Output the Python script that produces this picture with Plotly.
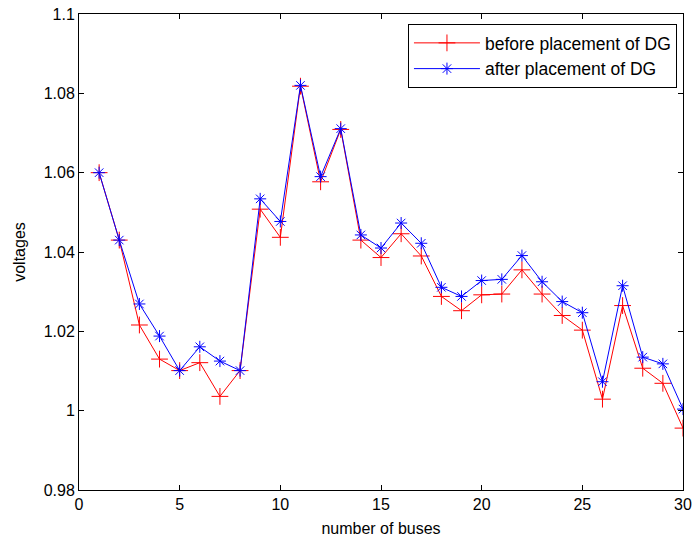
import plotly.graph_objects as go

buses = list(range(1, 31))
before_dg = [1.060, 1.043, 1.0216, 1.0130, 1.0101, 1.0121, 1.0036, 1.0101, 1.0508, 1.0437,
             1.0818, 1.0577, 1.0709, 1.0430, 1.0386, 1.0446, 1.0390, 1.0288, 1.0252, 1.0292,
             1.0294, 1.0355, 1.0294, 1.0240, 1.0203, 1.0029, 1.0265, 1.0107, 1.0069, 0.9956]
after_dg = [1.060, 1.043, 1.0269, 1.0188, 1.0101, 1.0161, 1.0125, 1.0101, 1.0534, 1.0477,
            1.0820, 1.0590, 1.0711, 1.0443, 1.0410, 1.0473, 1.0422, 1.0311, 1.0288, 1.0328,
            1.0331, 1.0391, 1.0325, 1.0275, 1.0247, 1.0073, 1.0315, 1.0135, 1.0118, 1.0004]
x_ticks = [0, 5, 10, 15, 20, 25, 30]
y_ticks = [0.98, 1.0, 1.02, 1.04, 1.06, 1.08, 1.1]
y_labels = ["0.98", "1", "1.02", "1.04", "1.06", "1.08", "1.1"]

FONT = "Liberation Sans, Arial"

fig = go.Figure()
fig.add_trace(go.Scatter(
    x=buses, y=before_dg, mode="lines+markers", name="before placement of DG",
    line=dict(color="#ff0000", width=1),
    marker=dict(symbol="cross-thin", size=12, line=dict(color="#ff0000", width=1), color="#ff0000"),
))
fig.add_trace(go.Scatter(
    x=buses, y=after_dg, mode="lines+markers", name="after placement of DG",
    line=dict(color="#0000ff", width=1),
    marker=dict(symbol="asterisk", size=10, line=dict(color="#0000ff", width=1), color="#0000ff"),
))

axis_common = dict(
    showgrid=False, zeroline=False, showline=True, linecolor="black", linewidth=1,
    mirror="ticks", ticks="inside", ticklen=5, tickcolor="black", automargin=False,
    tickfont=dict(family=FONT, size=16, color="black"),
)
fig.update_xaxes(range=[0, 30], tickvals=x_ticks,
                 title=dict(text="number of buses", font=dict(family=FONT, size=16, color="black"), standoff=10),
                 **axis_common)
fig.update_yaxes(range=[0.98, 1.1], tickvals=y_ticks, ticktext=y_labels,
                 title=dict(text="voltages", font=dict(family=FONT, size=16, color="black"), standoff=14),
                 **axis_common)

fig.update_layout(
    width=695, height=543,
    margin=dict(l=79, r=12, t=14, b=53),
    paper_bgcolor="white", plot_bgcolor="white",
    legend=dict(x=0.99, y=0.979, xanchor="right", yanchor="top",
                bordercolor="black", borderwidth=1, bgcolor="white",
                font=dict(family=FONT, size=17.5, color="black"),
                tracegroupgap=0, itemwidth=66),
    showlegend=True,
)

fig.write_html("out.html", config={"displayModeBar": False},
               post_script="document.body.style.margin='0';document.body.style.overflow='hidden';")
